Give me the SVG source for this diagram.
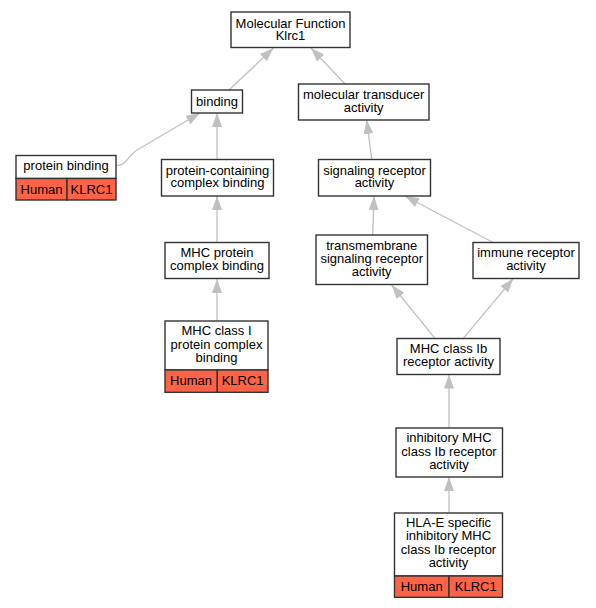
<svg xmlns="http://www.w3.org/2000/svg" width="596" height="608" viewBox="0 0 596 608">
<style>
.box{fill:#fff;stroke:#333;stroke-width:1.4}
.org{fill:#ff6347;stroke:#333;stroke-width:1.4}
text{font-family:"Liberation Sans",Arial,sans-serif;font-size:13px;fill:#000;text-anchor:middle}
.e{fill:none;stroke:#c0c0c0;stroke-width:1.3;marker-end:url(#ah)}
</style>
<defs>
<marker id="ah" viewBox="0 0 14 10" refX="14" refY="5" markerWidth="14" markerHeight="10" markerUnits="userSpaceOnUse" orient="auto">
<path d="M0,0 L14,5 L0,10 z" fill="#c0c0c0"/>
</marker>
</defs>
<rect width="596" height="608" fill="#fff"/>
<g id="edges">
<path class="e" d="M229,90 L273.5,48"/>
<path class="e" d="M345,84 L311,48"/>
<path class="e" d="M116.5,165.7 C126,165.7 128,156 137,150 L200,113"/>
<path class="e" d="M217,159.3 L217,113"/>
<path class="e" d="M217,242.3 L217,196"/>
<path class="e" d="M217,320.7 L217,279"/>
<path class="e" d="M371.7,159.3 L366.7,120"/>
<path class="e" d="M372.7,235 L374,196"/>
<path class="e" d="M492.7,242.3 L405,196"/>
<path class="e" d="M435,338.3 L391.7,285"/>
<path class="e" d="M463.3,338.3 L513.3,278.5"/>
<path class="e" d="M449,427.7 L449,374.5"/>
<path class="e" d="M449,512.7 L449,477"/>
</g>
<g id="mf">
<rect class="box" x="231" y="12" width="119" height="35.5"/>
<text x="290.5" y="27.5">Molecular Function</text>
<text x="290.5" y="40">Klrc1</text>
</g>
<g id="binding">
<rect class="box" x="191.5" y="90" width="51" height="23"/>
<text x="217" y="105.5">binding</text>
</g>
<g id="moltrans">
<rect class="box" x="298.5" y="84" width="130.5" height="36"/>
<text x="363.7" y="98.5">molecular transducer</text>
<text x="363.7" y="111.5">activity</text>
</g>
<g id="protbind">
<rect class="box" x="16" y="155.5" width="100" height="23"/>
<rect class="org" x="16" y="178.5" width="51" height="21.5"/>
<rect class="org" x="67" y="178.5" width="49" height="21.5"/>
<text x="66" y="170.3">protein binding</text>
<text x="41.5" y="193.5">Human</text>
<text x="91.5" y="193.5">KLRC1</text>
</g>
<g id="pcb">
<rect class="box" x="161.5" y="159.5" width="112" height="36.5"/>
<text x="217.5" y="174.5">protein-containing</text>
<text x="217.5" y="187.3">complex binding</text>
</g>
<g id="sigrec">
<rect class="box" x="318.5" y="159.5" width="112" height="36.5"/>
<text x="374.5" y="174.5">signaling receptor</text>
<text x="374.5" y="187.3">activity</text>
</g>
<g id="mhcpcb">
<rect class="box" x="165" y="242.5" width="104" height="36"/>
<text x="217" y="257.3">MHC protein</text>
<text x="217" y="270.3">complex binding</text>
</g>
<g id="tmsr">
<rect class="box" x="316" y="235" width="111.5" height="49.5"/>
<text x="371.7" y="249.7">transmembrane</text>
<text x="371.7" y="263">signaling receptor</text>
<text x="371.7" y="276.3">activity</text>
</g>
<g id="immune">
<rect class="box" x="473" y="242.5" width="106" height="36"/>
<text x="526" y="257.3">immune receptor</text>
<text x="526" y="270.3">activity</text>
</g>
<g id="mhci">
<rect class="box" x="165" y="321" width="103" height="49"/>
<rect class="org" x="165" y="370" width="52.3" height="22.3"/>
<rect class="org" x="217.3" y="370" width="50.7" height="22.3"/>
<text x="216.5" y="335.3">MHC class I</text>
<text x="216.5" y="348.7">protein complex</text>
<text x="216.5" y="362">binding</text>
<text x="191" y="385">Human</text>
<text x="242.6" y="385">KLRC1</text>
</g>
<g id="mhcib">
<rect class="box" x="397" y="338.5" width="103" height="36"/>
<text x="448.5" y="352.8">MHC class Ib</text>
<text x="448.5" y="366">receptor activity</text>
</g>
<g id="inhib">
<rect class="box" x="396" y="428" width="106.5" height="49"/>
<text x="449" y="442.3">inhibitory MHC</text>
<text x="449" y="455.6">class Ib receptor</text>
<text x="449" y="469">activity</text>
</g>
<g id="hlae">
<rect class="box" x="394.5" y="513" width="108" height="63"/>
<rect class="org" x="394.5" y="576" width="54.5" height="21.3"/>
<rect class="org" x="449" y="576" width="53.5" height="21.3"/>
<text x="448.5" y="526.8">HLA-E specific</text>
<text x="448.5" y="540.2">inhibitory MHC</text>
<text x="448.5" y="553.6">class Ib receptor</text>
<text x="448.5" y="567">activity</text>
<text x="421.7" y="590.5">Human</text>
<text x="475.7" y="590.5">KLRC1</text>
</g>
</svg>
